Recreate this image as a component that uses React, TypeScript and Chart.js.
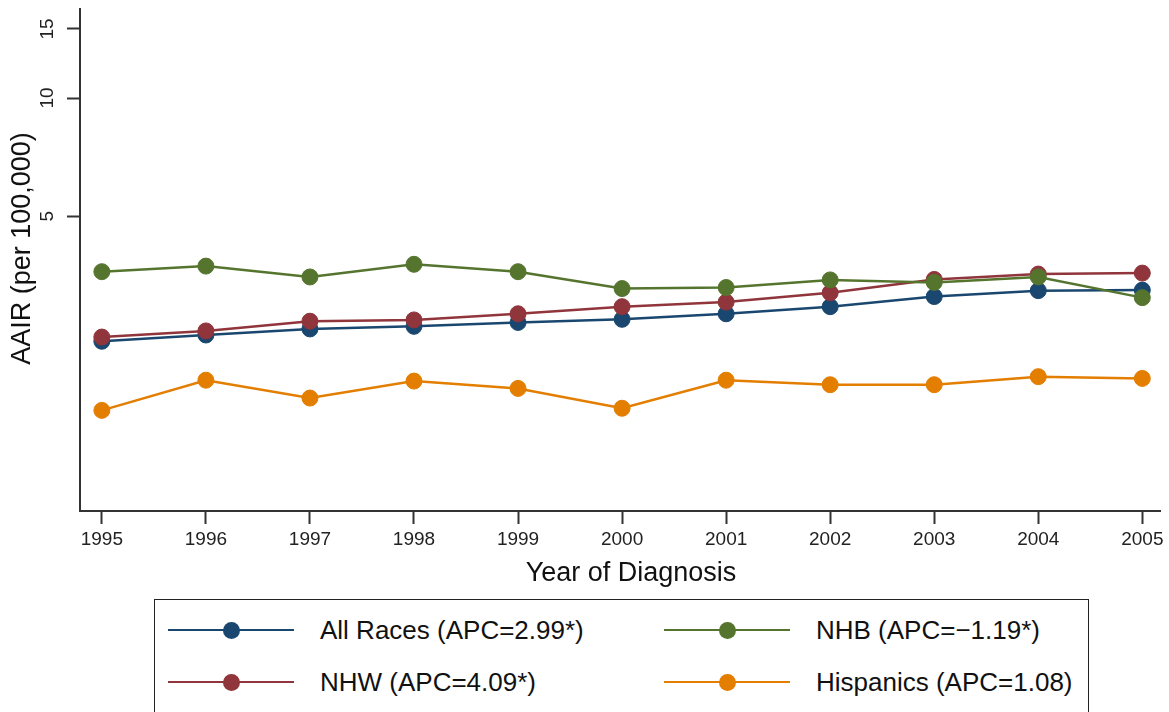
import React, { useEffect, useRef } from 'react';
import { Chart, registerables } from 'chart.js';

Chart.register(...registerables);

// ---- Data ----
const years = [1995, 1996, 1997, 1998, 1999, 2000, 2001, 2002, 2003, 2004, 2005];
const allRaces = [2.40, 2.49, 2.58, 2.62, 2.68, 2.73, 2.82, 2.94, 3.12, 3.23, 3.24];
const nhb = [3.61, 3.73, 3.50, 3.77, 3.61, 3.27, 3.29, 3.44, 3.39, 3.50, 3.10];
const nhw = [2.46, 2.55, 2.70, 2.72, 2.82, 2.94, 3.02, 3.19, 3.45, 3.56, 3.58];
const hispanics = [1.60, 1.91, 1.72, 1.90, 1.82, 1.62, 1.91, 1.86, 1.86, 1.95, 1.93];
const yTickValues = [5, 10, 15];
const seriesLabels = [
  'All Races (APC=2.99*)',
  'NHB (APC=\u22121.19*)',
  'NHW (APC=4.09*)',
  'Hispanics (APC=1.08)',
];
const xTitle = 'Year of Diagnosis';
const yTitle = 'AAIR (per 100,000)';

const COLORS = ['#1a476f', '#55752f', '#90353b', '#e37e00'];
const FONT = "'Liberation Sans', Arial, Helvetica, sans-serif";

export default function App() {
  const ref = useRef<HTMLCanvasElement>(null);

  useEffect(() => {
    const canvas = ref.current;
    if (!canvas) return;

    const mk = (label: string, data: number[], color: string, order: number) => ({
      label,
      data: years.map((x, i) => ({ x, y: data[i] })),
      borderColor: color,
      backgroundColor: color,
      borderWidth: 2.5,
      pointRadius: 8,
      pointBorderWidth: 1,
      pointBorderColor: color,
      pointBackgroundColor: color,
      tension: 0,
      order,
    });

    const titlePlugin = {
      id: 'axisTitles',
      afterDraw(chart: any) {
        const { ctx, chartArea: ca } = chart;
        ctx.save();
        ctx.fillStyle = '#111';
        ctx.font = `27px ${FONT}`;
        ctx.textAlign = 'center';
        ctx.textBaseline = 'middle';
        ctx.fillText(xTitle, (ca.left + ca.right) / 2 + 11, ca.bottom + 63);
        ctx.translate(23, (ca.top + ca.bottom) / 2 - 11.5);
        ctx.rotate(-Math.PI / 2);
        ctx.fillText(yTitle, 0, 0);
        ctx.restore();
      },
    };

    const chart = new Chart(canvas, {
      type: 'line',
      data: {
        datasets: [
          mk(seriesLabels[0], allRaces, COLORS[0], 3),
          mk(seriesLabels[1], nhb, COLORS[1], 1),
          mk(seriesLabels[2], nhw, COLORS[2], 2),
          mk(seriesLabels[3], hispanics, COLORS[3], 0),
        ],
      },
      options: {
        responsive: false,
        maintainAspectRatio: false,
        devicePixelRatio: 1,
        animation: false,
        layout: { padding: { top: 7, left: 0, right: 7, bottom: 141 } },
        plugins: {
          legend: { display: false },
          tooltip: { enabled: false },
        },
        scales: {
          x: {
            type: 'linear',
            min: 1994.79,
            max: 2005.17,
            afterBuildTicks: (s: any) => {
              s.ticks = years.map((v) => ({ value: v }));
            },
            afterFit: (s: any) => {
              s.height = 60;
              s.paddingLeft = 0;
              s.paddingRight = 0;
            },
            ticks: {
              font: { family: FONT, size: 19 },
              color: '#222',
              padding: 4,
              maxRotation: 0,
              autoSkip: false,
              callback: (v: any) => String(v),
            },
            grid: {
              display: true,
              drawOnChartArea: false,
              drawTicks: true,
              tickLength: 13,
              tickWidth: 2,
              tickColor: '#333',
            },
            border: { display: true, color: '#333', width: 2 },
          },
          y: {
            type: 'logarithmic',
            min: 0.8866,
            max: 16.86,
            afterBuildTicks: (s: any) => {
              s.ticks = yTickValues.map((v) => ({ value: v }));
            },
            afterFit: (s: any) => {
              s.width = 80;
              s.paddingTop = 0;
              s.paddingBottom = 0;
            },
            ticks: {
              font: { family: FONT, size: 19 },
              color: '#222',
              minRotation: 90,
              maxRotation: 90,
              crossAlign: 'center',
              padding: 9,
              autoSkip: false,
              callback: (v: any) => String(v),
            },
            grid: {
              display: true,
              drawOnChartArea: false,
              drawTicks: true,
              tickLength: 13,
              tickWidth: 2,
              tickColor: '#333',
            },
            border: { display: true, color: '#333', width: 2 },
          },
        },
      },
      plugins: [titlePlugin],
    } as any);

    return () => chart.destroy();
  }, []);

  const legendItems = [
    { label: seriesLabels[0], color: COLORS[0], col: 0, row: 0 },
    { label: seriesLabels[1], color: COLORS[1], col: 1, row: 0 },
    { label: seriesLabels[2], color: COLORS[2], col: 0, row: 1 },
    { label: seriesLabels[3], color: COLORS[3], col: 1, row: 1 },
  ];

  return (
    <div
      style={{
        position: 'fixed',
        left: 0,
        top: 0,
        width: 1169,
        height: 712,
        background: '#fff',
        overflow: 'hidden',
      }}
    >
      <canvas ref={ref} width={1169} height={712} style={{ display: 'block' }} />
      <div
        style={{
          position: 'absolute',
          left: 154,
          top: 599,
          width: 935,
          height: 114,
          border: '1.5px solid #222',
          boxSizing: 'border-box',
          background: '#fff',
        }}
      >
        {legendItems.map((it, i) => {
          const rowY = it.row === 0 ? 30 : 82;
          const colX = it.col === 0 ? 13 : 509;
          return (
            <React.Fragment key={i}>
              <div
                style={{
                  position: 'absolute',
                  left: colX,
                  top: rowY - 1.25,
                  width: 126,
                  height: 2.5,
                  background: it.color,
                }}
              />
              <div
                style={{
                  position: 'absolute',
                  left: colX + 63 - 8.5,
                  top: rowY - 8.5,
                  width: 17,
                  height: 17,
                  borderRadius: '50%',
                  background: it.color,
                }}
              />
              <div
                style={{
                  position: 'absolute',
                  left: colX + 152,
                  top: rowY,
                  transform: 'translateY(-50%)',
                  fontFamily: FONT,
                  fontSize: 26,
                  lineHeight: 1,
                  color: '#111',
                  whiteSpace: 'nowrap',
                }}
              >
                {it.label}
              </div>
            </React.Fragment>
          );
        })}
      </div>
    </div>
  );
}
